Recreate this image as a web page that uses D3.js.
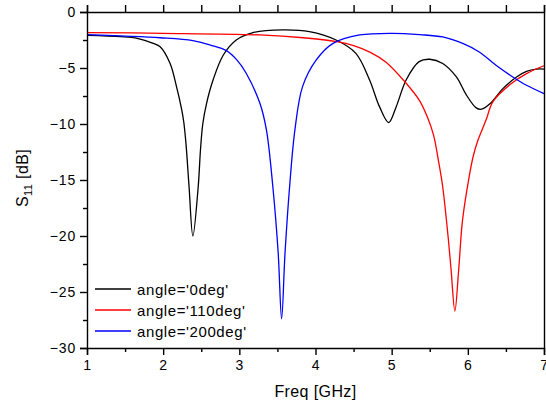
<!DOCTYPE html>
<html>
<head>
<meta charset="utf-8">
<script src="https://cdn.jsdelivr.net/npm/d3@7"></script>
<style>
  body { margin: 0; background: #fff; }
  text { font-family: "Liberation Sans", Arial, sans-serif; fill: #000; }
</style>
</head>
<body>
<svg id="chart" width="546" height="403"></svg>
<script>
"use strict";

// values: [freq GHz, S11 dB]
const deg0 = [
  [1.0, -2.08], [1.44, -2.2], [1.66, -2.35], [1.87, -2.8], [1.96, -3.1], [2.09, -4.58],
  [2.175, -6.66], [2.24, -8.6], [2.27, -9.8], [2.30, -11.8], [2.34, -15.6], [2.39, -20.0],
  [2.46, -15.6], [2.49, -12.3], [2.52, -10.0], [2.57, -8.15], [2.655, -6.07], [2.79, -3.84],
  [2.96, -2.5], [3.18, -1.84], [3.57, -1.6], [3.92, -1.75], [4.27, -2.5], [4.53, -3.69],
  [4.71, -6.07], [4.84, -8.45], [4.96, -9.87], [5.06, -8.45], [5.19, -6.07], [5.36, -4.43],
  [5.50, -4.22], [5.67, -4.6], [5.85, -5.8], [5.98, -7.4], [6.11, -8.56], [6.18, -8.68],
  [6.29, -8.2], [6.46, -6.84], [6.64, -5.8], [6.77, -5.3], [6.90, -5.1], [7.0, -5.1]
];
const deg110 = [
  [1.0, -1.84], [2.0, -1.9], [3.27, -2.05], [3.84, -2.3], [4.28, -2.65], [4.50, -3.0],
  [4.72, -3.6], [4.93, -4.5], [5.19, -6.36], [5.36, -7.85], [5.47, -9.4], [5.55, -11.0],
  [5.62, -13.5], [5.67, -15.6], [5.74, -20.0], [5.78, -23.0], [5.83, -26.7], [5.88, -23.0],
  [5.93, -18.6], [6.02, -14.6], [6.07, -12.9], [6.13, -11.5], [6.24, -9.63], [6.33, -8.0],
  [6.55, -6.5], [6.77, -5.5], [7.0, -4.8]
];
const deg200 = [
  [1.0, -2.02], [1.44, -2.14], [1.96, -2.3], [2.39, -2.55], [2.62, -2.95], [2.83, -3.45],
  [2.97, -4.3], [3.09, -5.47], [3.27, -8.15], [3.355, -10.5], [3.44, -15.6], [3.51, -21.5],
  [3.555, -27.4], [3.60, -21.5], [3.66, -15.6], [3.73, -10.5], [3.83, -6.66], [4.01, -4.28],
  [4.23, -2.8], [4.58, -2.05], [5.01, -1.9], [5.37, -2.02], [5.67, -2.23], [5.94, -2.83],
  [6.15, -3.57], [6.37, -4.76], [6.59, -5.8], [6.77, -6.54], [7.0, -7.28]
];

const seriesNames = ["angle='0deg'", "angle='110deg'", "angle='200deg'"];
const seriesColors = ["#000000", "#ff0000", "#0000ff"];
const xTicks = [1, 2, 3, 4, 5, 6, 7];
const yTicks = [0, -5, -10, -15, -20, -25, -30];

const svg = d3.select("#chart");
const m = { left: 87, right: 544, top: 12, bottom: 348 };

const x = d3.scaleLinear().domain([1, 7]).range([m.left, m.right]);
const y = d3.scaleLinear().domain([-30, 0]).range([m.bottom, m.top]);

// curves
const line = d3.line()
  .x(d => x(d[0]))
  .y(d => y(d[1]))
  .curve(d3.curveCatmullRom.alpha(0.5));

const plot = svg.append("g");
[deg0, deg110, deg200].forEach((s, i) => {
  plot.append("path")
    .attr("d", line(s))
    .attr("fill", "none")
    .attr("stroke", seriesColors[i])
    .attr("stroke-width", 1.3);
});

// axes
const minorX = d3.range(1.5, 7, 1);
const minorY = d3.range(-27.5, 0, 5);

svg.append("g")
  .attr("transform", `translate(0,${m.bottom})`)
  .call(d3.axisBottom(x).tickValues(minorX).tickSize(4).tickFormat(""))
  .call(g => g.select(".domain").remove());
svg.append("g")
  .attr("transform", `translate(0,${m.bottom})`)
  .call(d3.axisBottom(x).tickValues(xTicks).tickSize(7).tickPadding(5).tickFormat(d3.format("d")));

svg.append("g")
  .attr("transform", `translate(0,${m.top})`)
  .call(d3.axisTop(x).tickValues(xTicks.concat(minorX)).tickSize(7).tickFormat(""));

svg.append("g")
  .attr("transform", `translate(${m.left},0)`)
  .call(d3.axisLeft(y).tickValues(minorY).tickSize(4).tickFormat(""))
  .call(g => g.select(".domain").remove());
svg.append("g")
  .attr("transform", `translate(${m.left},0)`)
  .call(d3.axisLeft(y).tickValues(yTicks).tickSize(7).tickPadding(4).tickFormat(d3.format("d")));

svg.append("g")
  .attr("transform", `translate(${m.right},0)`)
  .call(d3.axisRight(y).tickValues(yTicks.concat(minorY)).tickSize(0).tickFormat(""));

svg.selectAll(".domain, .tick line").attr("stroke", "#000").attr("stroke-width", 1.4);
svg.selectAll(".tick text")
  .style("font-size", "14px")
  .style("letter-spacing", "0.8px")
  .style("font-family", "Liberation Sans, Arial, sans-serif");

// axis titles
svg.append("text")
  .attr("x", (m.left + m.right) / 2)
  .attr("y", 397)
  .attr("text-anchor", "middle")
  .style("font-size", "16px")
  .style("letter-spacing", "0.4px")
  .text("Freq [GHz]");

const yl = svg.append("text")
  .attr("transform", `translate(28,${(m.top + m.bottom) / 2 - 2}) rotate(-90)`)
  .attr("text-anchor", "middle")
  .style("font-size", "16px")
  .style("letter-spacing", "0.4px");
yl.append("tspan").text("S");
yl.append("tspan").attr("dy", 4).style("font-size", "11px").text("11");
yl.append("tspan").attr("dy", -4).text(" [dB]");

// legend
const legend = svg.append("g");
seriesNames.forEach((name, i) => {
  const ly = 289 + i * 21;
  legend.append("line")
    .attr("x1", 95).attr("x2", 131)
    .attr("y1", ly).attr("y2", ly)
    .attr("stroke", seriesColors[i])
    .attr("stroke-width", 1.3);
  legend.append("text")
    .attr("x", 137)
    .attr("y", ly + 6)
    .style("font-size", "15px")
    .style("letter-spacing", "0.6px")
    .text(name);
});
</script>
</body>
</html>
